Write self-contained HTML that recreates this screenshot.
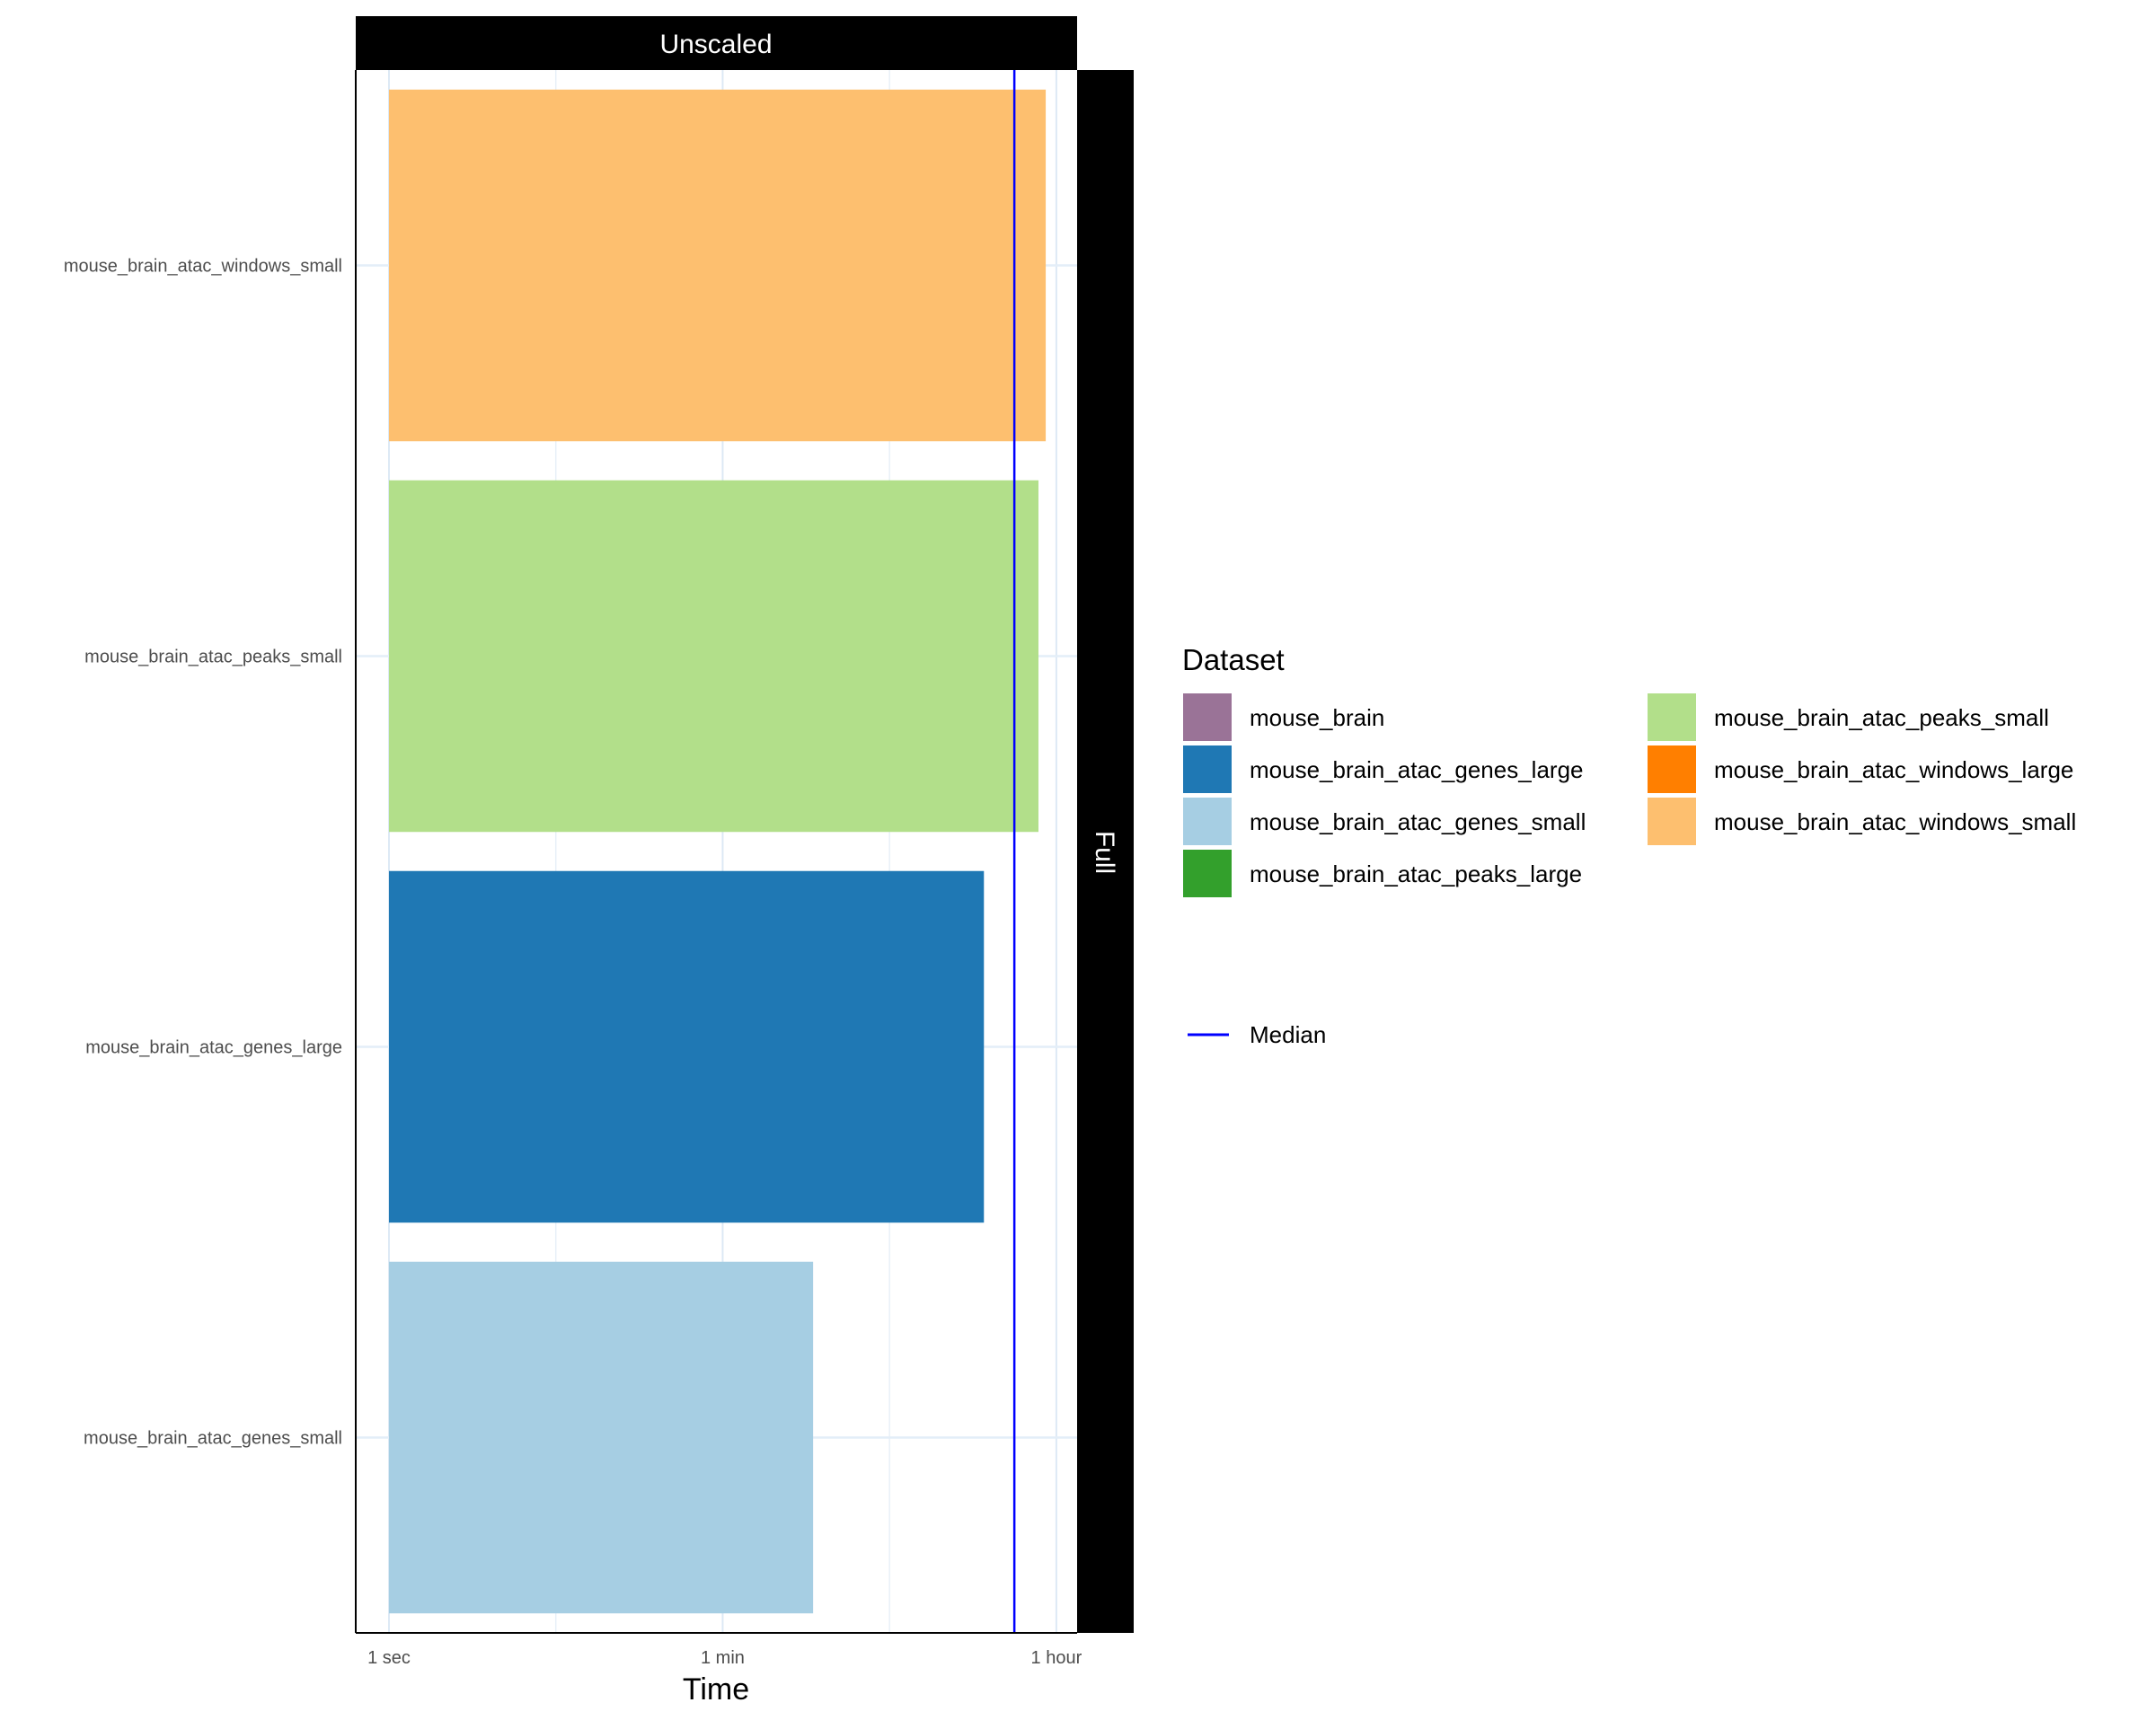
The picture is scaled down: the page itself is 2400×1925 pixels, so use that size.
<!DOCTYPE html>
<html><head><meta charset="utf-8"><style>
body{margin:0;background:#fff;}
svg text{font-family:"Liberation Sans",sans-serif;}
</style></head><body>
<svg id="chart" width="2400" height="1920" viewBox="0 0 2400 1920" xmlns="http://www.w3.org/2000/svg">
<rect x="0" y="0" width="2400" height="1920" fill="#fff"/>
<g id="grid"></g>
<g id="bars"></g>
<g id="axes"></g>
<rect x="396" y="18" width="803" height="60" fill="#000"/>
<text x="797" y="59" font-size="30" fill="#fff" text-anchor="middle">Unscaled</text>
<rect x="1199" y="78" width="63" height="1740" fill="#000"/>
<text x="1220" y="949" font-size="30" fill="#fff" text-anchor="middle" transform="rotate(90 1220 949)">Full</text>
<text x="797" y="1892" font-size="34" fill="#000" text-anchor="middle">Time</text>
<g id="legend">
<text x="1316" y="746" font-size="33" fill="#000">Dataset</text>
</g>
</svg>
<script>
const categories=["mouse_brain_atac_windows_small","mouse_brain_atac_peaks_small","mouse_brain_atac_genes_large","mouse_brain_atac_genes_small"];
const seconds=[3160,2890,1480,182];
const barColors=["#FDBF6F","#B2DF8A","#1F78B4","#A6CEE3"];
const medianSeconds=[2150];
const tickValues=[1,60,3600];
const tickLabels=["1 sec","1 min","1 hour"];
const legendNames=["mouse_brain","mouse_brain_atac_genes_large","mouse_brain_atac_genes_small","mouse_brain_atac_peaks_large","mouse_brain_atac_peaks_small","mouse_brain_atac_windows_large","mouse_brain_atac_windows_small"];
const legendColors=["#9A7397","#1F78B4","#A6CEE3","#33A02C","#B2DF8A","#FF7F00","#FDBF6F"];

const NS="http://www.w3.org/2000/svg";
const PL=396,PR=1199,PT=78,PB=1818;
const X0=433,PXD=208.9;
function xs(v){return X0+Math.log10(v)*PXD;}
const band=(PB-PT)/categories.length;
function yc(i){return PT+band*(i+0.5);}
function mk(t,a,p){const e=document.createElementNS(NS,t);for(const k in a)e.setAttribute(k,a[k]);p.appendChild(e);return e;}
const grid=document.getElementById('grid'),bars=document.getElementById('bars'),axes=document.getElementById('axes'),legend=document.getElementById('legend');
// gridlines
for(let i=0;i<tickValues.length;i++){
 const x=xs(tickValues[i]);
 const l=mk('line',{x1:x,x2:x,y1:PT,y2:PB,stroke:'#dde9f5','stroke-width':2},grid);
 
 
 if(i<tickValues.length-1){
  const xm=xs(Math.sqrt(tickValues[i]*tickValues[i+1]));
  const m=mk('line',{x1:xm,x2:xm,y1:PT,y2:PB,stroke:'#e8f0f8','stroke-width':1.5},grid);
  
  
 }
 const t=mk('text',{x:x,y:1852,'font-size':20,fill:'#4d4d4d','text-anchor':'middle'},axes);
 t.textContent=tickLabels[i];
 
 
}
categories.forEach((c,i)=>{
 const y=yc(i);
 const g=mk('line',{x1:PL,x2:PR,y1:y,y2:y,stroke:'#e3eef8','stroke-width':2.5},grid);
 
 
 const h=band*0.9;
 const r=mk('rect',{x:xs(1),y:y-h/2,width:xs(seconds[i])-xs(1),height:h,fill:barColors[i]},bars);
 
 
 const t=mk('text',{x:381,y:y+7,'font-size':20,fill:'#4d4d4d','text-anchor':'end'},axes);
 t.textContent=c;
 
 
});
const mx=xs(medianSeconds[0]);
const med=mk('line',{x1:mx,x2:mx,y1:PT,y2:PB,stroke:'#0000ff','stroke-width':2.5},bars);


const axl=mk('line',{x1:PL,x2:PL,y1:PT,y2:PB,stroke:'#000','stroke-width':2},axes);


const axb=mk('line',{x1:PL,x2:PR,y1:PB,y2:PB,stroke:'#000','stroke-width':2},axes);


// legend
legendNames.forEach((n,i)=>{
 const col=i<4?0:1,row=i<4?i:i-4;
 const kx=col?1834:1317,tx=col?1908:1391,ky=772+row*58;
 const k=mk('rect',{x:kx,y:ky,width:54,height:53,fill:legendColors[i]},legend);
 
 
 const t=mk('text',{x:tx,y:ky+36,'font-size':26,fill:'#000'},legend);
 t.textContent=n;
 
 
});
const ml=mk('line',{x1:1322,x2:1368,y1:1152,y2:1152,stroke:'#0000ff','stroke-width':3},legend);


const mt=mk('text',{x:1391,y:1161,'font-size':26,fill:'#000'},legend);
mt.textContent='Median';


</script>
</body></html>
